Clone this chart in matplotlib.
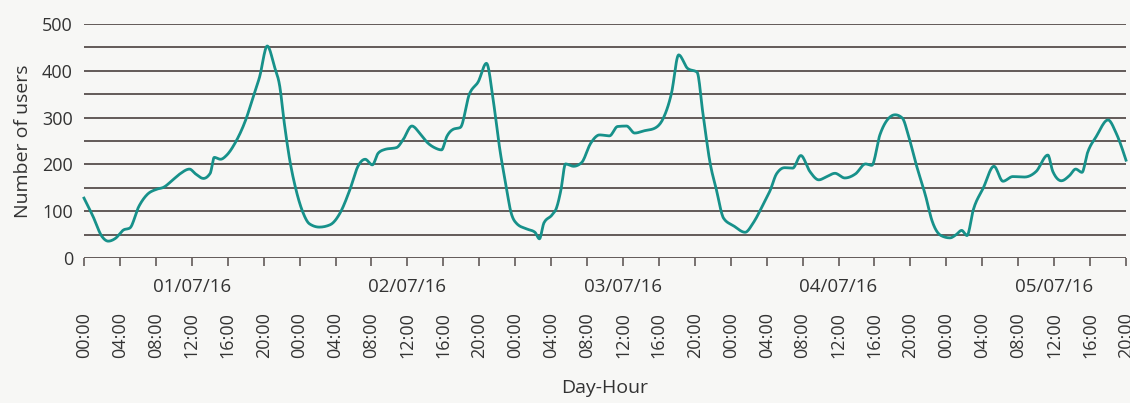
import matplotlib
matplotlib.use("Agg")
import matplotlib.pyplot as plt
import numpy as np
from matplotlib.ticker import MultipleLocator

plt.rcParams['font.family'] = ['Open Sans', 'DejaVu Sans']

# ---- data (hours since 01/07/16 00:00, number of users) ----
hours = [0, 1, 2, 2.7, 3.5, 4.4, 5.1, 6.1, 7.0, 8.1, 8.85, 9.95, 10.7, 11.75, 12.4, 13.3,
         14.05, 14.5, 15.2, 15.9, 16.8, 18.0, 18.9, 19.55,
         20.4, 21.2, 21.8, 22.3, 22.9, 23.6, 24.4, 25.1, 26.2, 27.4, 28.5, 29.6, 30.5, 31.3,
         32.1, 32.75, 33.5, 34.8, 35.5, 36.5, 37.4, 38.1, 39.1, 39.8,
         40.4, 41.1, 41.9, 42.9, 43.9, 44.8, 45.6, 46.3, 47.0, 47.5, 48.2, 49.3, 50.2, 50.7,
         51.2, 52.1, 52.6, 53.1, 53.6, 54.5, 55.4, 56.4, 57.4, 58.5, 59.4,
         60.4, 61.3, 62.4, 63.5, 64.5, 65.4, 66.2, 67.2, 68.25, 68.9, 69.7, 70.4, 71.2, 72.3,
         73.6, 74.5, 75.6, 76.4, 77.1, 78.0, 78.9, 79.8,
         80.8, 81.8, 82.7, 83.6, 84.7, 85.9, 87.0, 87.7, 88.6, 89.6, 90.3, 91.1, 91.8, 92.7,
         93.7, 94.4, 95.4, 96.4, 97.1, 97.7, 98.3, 99.0,
         100.1, 101.3, 102.3, 103.4, 104.7, 106.0, 107.3, 107.85, 108.8, 109.7, 110.4, 111.1,
         111.7, 112.7, 114.0, 114.9, 116.0]
users = [128, 89, 46, 36, 42, 60, 64, 110, 135, 147, 151, 168, 180, 190, 180, 170,
         181, 215, 211, 220, 245, 295, 348, 387,
         453, 409, 366, 288, 210, 146, 96, 73, 66, 71, 96, 146, 196, 211,
         199, 224, 232, 236, 252, 282, 266, 249, 235, 231,
         260, 275, 279, 350, 377, 416, 331, 231, 153, 100, 73, 62, 55, 41,
         75, 92, 107, 146, 201, 196, 204, 245, 263, 261, 281,
         282, 267, 272, 277, 299, 352, 434, 405, 397, 309, 203, 146, 85, 69,
         55, 75, 114, 145, 180, 193, 192, 219,
         185, 167, 174, 181, 171, 180, 201, 198, 263, 299, 306, 299, 260, 196,
         132, 80, 48, 43, 50, 59, 48, 103,
         149, 196, 164, 174, 173, 185, 220, 185, 165, 176, 190, 183,
         224, 260, 295, 267, 209]

day_labels = ["01/07/16", "02/07/16", "03/07/16", "04/07/16", "05/07/16"]
hour_labels = ["00:00", "04:00", "08:00", "12:00", "16:00", "20:00"]

BG = '#f7f7f5'
LINE = '#17918a'
GRID = '#625a58'
TXT = '#333333'


def monotone_curve(x, y, n=12):
    """Monotone cubic (d3 curveMonotoneX style) through the points."""
    x = np.asarray(x, float)
    y = np.asarray(y, float)
    h = np.diff(x)
    s = np.diff(y) / h
    m = np.zeros_like(y)
    for i in range(1, len(x) - 1):
        p = (s[i-1]*h[i] + s[i]*h[i-1]) / (h[i-1] + h[i])
        m[i] = (np.sign(s[i-1]) + np.sign(s[i])) * min(abs(s[i-1]), abs(s[i]), 0.5*abs(p))
    m[0] = (3*s[0] - m[1]) / 2
    m[-1] = (3*s[-1] - m[-2]) / 2
    xs, ys = [], []
    for i in range(len(x) - 1):
        t = np.linspace(0, 1, n, endpoint=False)
        h00 = 2*t**3 - 3*t**2 + 1
        h10 = t**3 - 2*t**2 + t
        h01 = -2*t**3 + 3*t**2
        h11 = t**3 - t**2
        xs.append(x[i] + t*h[i])
        ys.append(h00*y[i] + h10*h[i]*m[i] + h01*y[i+1] + h11*h[i]*m[i+1])
    xs.append([x[-1]])
    ys.append([y[-1]])
    return np.concatenate(xs), np.concatenate(ys)


fig = plt.figure(figsize=(11.3, 4.03), dpi=100, facecolor=BG)
ax = fig.add_axes([84/1130, 1-258/403, (1126-84)/1130, (258-24)/403])
ax.set_facecolor(BG)

sx, sy = monotone_curve(hours, users)
ax.plot(sx, sy, color=LINE, lw=2.0, solid_joinstyle='round', clip_on=False, zorder=3)

ax.set_xlim(0, 116)
ax.set_ylim(0, 500)

ax.yaxis.set_major_locator(MultipleLocator(100))
ax.yaxis.set_minor_locator(MultipleLocator(50))
ax.grid(axis='y', which='both', color=GRID, lw=1.4)
ax.set_axisbelow(True)
for s in ax.spines.values():
    s.set_visible(False)
ax.tick_params(axis='y', which='both', length=0, labelsize=13, labelcolor=TXT, pad=8)

xt = list(range(0, 117, 4))
ax.set_xticks(xt)
ax.set_xticklabels([hour_labels[(t % 24) // 4] for t in xt], rotation=90, va='top')
ax.tick_params(axis='x', length=6, width=1.2, color=GRID, labelsize=13, labelcolor=TXT, pad=33)

for i, lab in enumerate(day_labels):
    ax.annotate(lab, xy=(12 + 24*i, 0), xycoords=('data', 'axes fraction'),
                xytext=(0, -29), textcoords='offset pixels', ha='center', va='center',
                fontsize=13.5, color=TXT)

ax.set_ylabel("Number of users", fontsize=14, color=TXT, labelpad=7)
fig.text(605/1130, 1-388/403, "Day-Hour", ha='center', va='center', fontsize=14, color=TXT)

fig.savefig("out.png", dpi=100, facecolor=BG)
